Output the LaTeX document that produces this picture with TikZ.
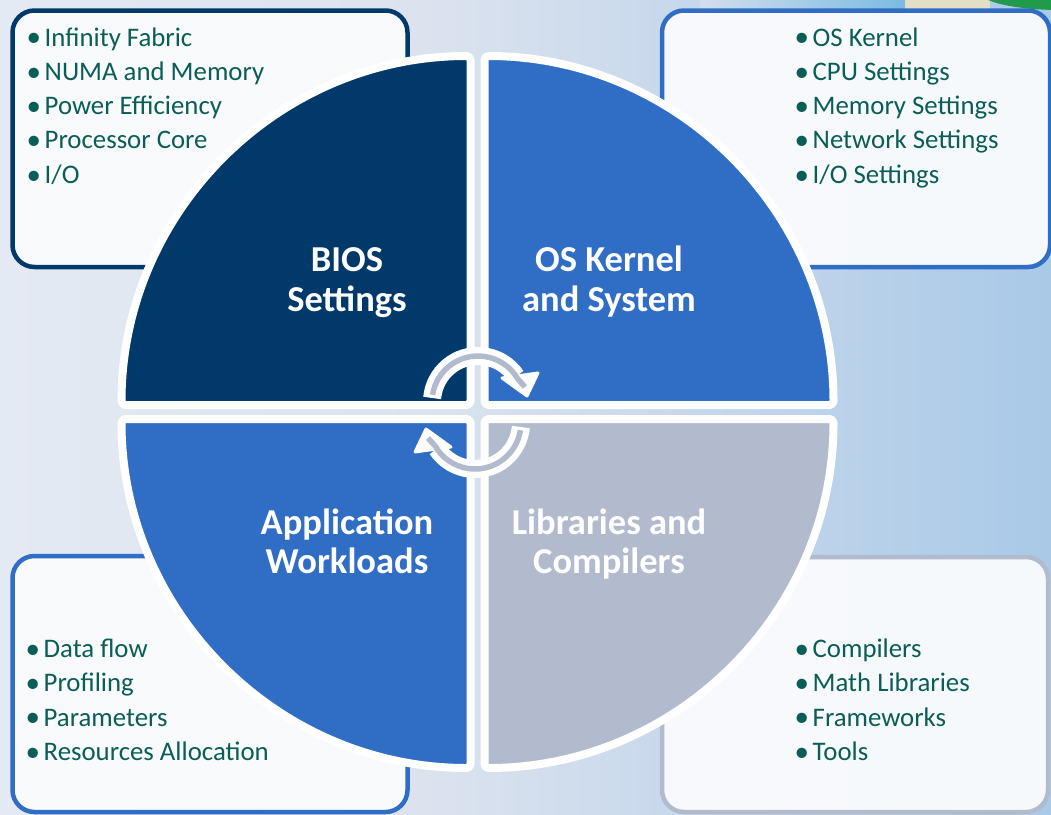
\documentclass[tikz,border=0pt]{standalone}
\usepackage{fontspec}
\setmainfont{Carlito}
\usetikzlibrary{shadows}

\definecolor{navy}{HTML}{02396B}
\definecolor{midblue}{HTML}{306DC5}
\definecolor{slate}{HTML}{B2BBCE}
\definecolor{itemteal}{HTML}{0B5D57}
\definecolor{boxfill}{HTML}{F9FBFD}
\definecolor{bgA}{HTML}{EEF2F8}
\definecolor{bgB}{HTML}{DCE3EF}
\definecolor{bgC}{HTML}{A9C9E7}
\definecolor{bgD}{HTML}{8EBCE2}
\definecolor{leafgreen}{HTML}{1F9B4B}
\definecolor{cream}{HTML}{EFE4BC}
\definecolor{skyband}{HTML}{55AEDD}

\pgfdeclarehorizontalshading{bgshade}{100bp}{color(0bp)=(bgA); color(45bp)=(bgB); color(75bp)=(bgC); color(100bp)=(bgD)}

\newcommand\itemfont{\fontsize{26.8}{31}\selectfont}
\newcommand\titlefont{\fontsize{36.5}{39.5}\selectfont\bfseries}
\newcommand\blt{\makebox[18pt][l]{\raisebox{-0.8pt}{\fontsize{29}{29}\selectfont •}}}

% one curved arrow of the cycle: white band, slate core, white head
\newcommand\cyclearrow{%
  \draw[white, line width=18pt] (432.18,397.99) arc[start angle=185, end angle=326, radius=46];
  \filldraw[white, line width=3pt, line join=round] (538,373) -- (527,396) -- (502,378) -- cycle;
  \draw[slate, line width=5.5pt] (432.57,394.80) arc[start angle=189, end angle=330, radius=46] -- (525,387);
}

\tikzset{
  listbox/.style={line width=4.5pt, fill=boxfill, fill opacity=0.97, draw opacity=1, rounded corners=22pt},
  quad/.style={draw=white, line width=8pt, rounded corners=4pt, line join=round,
    drop shadow={shadow xshift=1.5pt, shadow yshift=-3pt, opacity=0.18, fill=black}},
  item/.style={anchor=base west, inner sep=0pt, font=\itemfont, text=itemteal},
  title/.style={anchor=base, inner sep=0pt, align=center, font=\titlefont, text=white}
}

\begin{document}
\begin{tikzpicture}[x=1pt, y=-1pt]
  % backdrop
  \shade[shading=bgshade] (0,0) rectangle (1051,814);
  \useasboundingbox (0,0) rectangle (1051,814);
  \shade[left color=bgB, right color=skyband, opacity=0.6] (700,0) rectangle (905,9);
  \fill[cream, opacity=0.8] (905,0) rectangle (990,9);
  \fill[leafgreen] (1060,-8) ellipse[x radius=80, y radius=18];

  % corner boxes
  \draw[listbox, draw=navy]    (12.5,10.5) rectangle (407.5,267);
  \draw[listbox, draw=midblue] (662,10.5)  rectangle (1050,267);
  \draw[listbox, draw=midblue] (12.5,556)  rectangle (407.5,812);
  \draw[listbox, draw=slate]   (662,557)   rectangle (1048,812);

  % four quadrants of the disc
  \path[quad, fill=navy]    (470.5,405) -- (121.5,405) arc[start angle=180, end angle=270, radius=349] -- cycle;
  \path[quad, fill=midblue] (484.5,405) -- (833.5,405) arc[start angle=0, end angle=-90, radius=349] -- cycle;
  \path[quad, fill=midblue] (470.5,419) -- (121.5,419) arc[start angle=180, end angle=90, radius=349] -- cycle;
  \path[quad, fill=slate]   (484.5,419) -- (833.5,419) arc[start angle=0, end angle=90, radius=349] -- cycle;

  % quadrant titles (anchored on the baseline of their last line)
  \node[title] (bios) at (347,311) {BIOS\\Settings};
  \node[title] (kernel) at (609,311) {OS Kernel\\and System};
  \node[title] (apps) at (347,573.5) {Application\\Workloads};
  \node[title] (libs) at (609,573.5) {Libraries and\\Compilers};

  % cycle arrows in the centre
  \cyclearrow
  \begin{scope}[xshift=-2pt, yshift=-1pt, rotate around={180:(477.5,412)}]
    \cyclearrow
  \end{scope}

  % BIOS list
  \node[item] (b1) at (26.5,46)    {\blt Infinity Fabric};
  \node[item] (b2) at (26.5,80.3)  {\blt NUMA and Memory};
  \node[item] (b3) at (26.5,114.6) {\blt Power Efficiency};
  \node[item] (b4) at (26.5,148.9) {\blt Processor Core};
  \node[item] (b5) at (26.5,183.2) {\blt I/O};
  % OS list
  \node[item] (k1) at (794.5,46)    {\blt OS Kernel};
  \node[item] (k2) at (794.5,80.3)  {\blt CPU Settings};
  \node[item] (k3) at (794.5,114.6) {\blt Memory Settings};
  \node[item] (k4) at (794.5,148.9) {\blt Network Settings};
  \node[item] (k5) at (794.5,183.2) {\blt I/O Settings};
  % application list
  \node[item] (a1) at (25.5,657.5) {\blt Data flow};
  \node[item] (a2) at (25.5,691.8) {\blt Profiling};
  \node[item] (a3) at (25.5,726)   {\blt Parameters};
  \node[item] (a4) at (25.5,760.3) {\blt Resources Allocation};
  % library list
  \node[item] (l1) at (794.5,657.5) {\blt Compilers};
  \node[item] (l2) at (794.5,691.8) {\blt Math Libraries};
  \node[item] (l3) at (794.5,726)   {\blt Frameworks};
  \node[item] (l4) at (794.5,760.3) {\blt Tools};
\end{tikzpicture}
\end{document}
